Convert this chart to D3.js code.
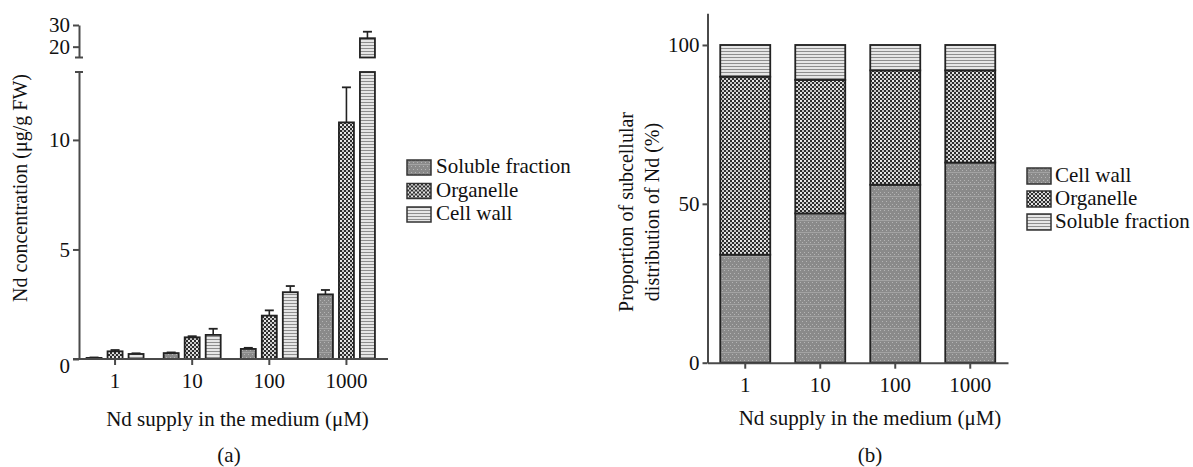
<!DOCTYPE html>
<html lang="en">

<head>
  <meta charset="UTF-8" />
  <title>Nd subcellular distribution</title>
  <script src="https://d3js.org/d3.v7.js"></script>
  <style>
    body { margin: 0; background: #fff; }
    text { font-family: "Liberation Serif", "Times New Roman", serif; fill: #111; }
    .axis path, .axis line { stroke: #4a4a4a; stroke-width: 2; }
    .axis text { font-size: 21px; font-family: "Liberation Serif", serif; fill: #111; }
  </style>
</head>

<body>
  <div id="figure"></div>
</body>
<script>
  // Data
  const supply = ["1", "10", "100", "1000"];
  const fractions = ["Soluble fraction", "Organelle", "Cell wall"];

  // (a) concentration, ug/g FW, and upper error
  const solubleConc = [0.05, 0.27, 0.46, 2.95];
  const solubleErr = [0.02, 0.03, 0.05, 0.2];
  const organelleConc = [0.35, 0.99, 1.98, 10.8];
  const organelleErr = [0.06, 0.05, 0.24, 1.6];
  const cellWallConc = [0.23, 1.1, 3.05, 23.9];
  const cellWallErr = [0.03, 0.28, 0.28, 3.0];
  const lowTicks = [0, 5, 10];
  const highTicks = [20, 30];

  // (b) proportion, %
  const stackKeys = ["Cell wall", "Organelle", "Soluble fraction"];
  const cellWallPct = [34, 47, 56, 63];
  const organellePct = [56, 42, 36, 29];
  const solublePct = [10, 11, 8, 8];
  const pctTicks = [0, 50, 100];

  const width = 1193
  const height = 467

  const svg = d3.select("#figure")
    .append("svg")
    .attr("width", width)
    .attr("height", height)

  // fill patterns
  const defs = svg.append("defs")

  const checker = defs.append("pattern").attr("id", "checker")
    .attr("patternUnits", "userSpaceOnUse").attr("width", 4).attr("height", 4)
  checker.append("rect").attr("width", 4).attr("height", 4).attr("fill", "#2e2e2e")
  checker.append("rect").attr("width", 2).attr("height", 2).attr("fill", "#e8e8e8")
  checker.append("rect").attr("x", 2).attr("y", 2).attr("width", 2).attr("height", 2).attr("fill", "#c4c4c4")

  const hlines = defs.append("pattern").attr("id", "hlines")
    .attr("patternUnits", "userSpaceOnUse").attr("width", 4).attr("height", 3)
  hlines.append("rect").attr("width", 4).attr("height", 3).attr("fill", "#e6e6e6")
  hlines.append("rect").attr("width", 4).attr("height", 1).attr("fill", "#8e8e8e")

  const dots = defs.append("pattern").attr("id", "dots")
    .attr("patternUnits", "userSpaceOnUse").attr("width", 4).attr("height", 12)
  dots.append("rect").attr("width", 4).attr("height", 12).attr("fill", "#8a8a8a")
  dots.append("rect").attr("x", 0).attr("y", 0).attr("width", 1).attr("height", 1).attr("fill", "#b4b4b4")
  dots.append("rect").attr("x", 2).attr("y", 2).attr("width", 1).attr("height", 1).attr("fill", "#b4b4b4")
  dots.append("rect").attr("x", 0).attr("y", 6).attr("width", 1).attr("height", 1).attr("fill", "#b4b4b4")
  dots.append("rect").attr("x", 2).attr("y", 9).attr("width", 1).attr("height", 1).attr("fill", "#b4b4b4")
  dots.append("rect").attr("x", 0).attr("y", 4).attr("width", 4).attr("height", 1).attr("fill", "#a3a3a3")

  const fillOf = { "Soluble fraction": "url(#dots)", "Organelle": "url(#checker)", "Cell wall": "url(#hlines)" }
  const fillOfB = { "Cell wall": "url(#dots)", "Organelle": "url(#checker)", "Soluble fraction": "url(#hlines)" }

  // ---------- (a) grouped bars with broken axis ----------
  const axisXa = 79
  const lowMax = 13.1, highMin = 15
  const yLow = d3.scaleLinear().domain([0, lowMax]).range([359, 72])
  const yHigh = d3.scaleLinear().domain([highMin, 30]).range([57.5, 25])
  const yA = v => v <= lowMax ? yLow(v) : yHigh(v)

  const xA = d3.scaleBand().domain(supply).range([76.5, 385])
  const xSub = d3.scaleBand().domain(fractions).range([-28.5, 28.5]).paddingInner(0.286)

  const seriesA = [
    { name: "Soluble fraction", values: solubleConc, errors: solubleErr },
    { name: "Organelle", values: organelleConc, errors: organelleErr },
    { name: "Cell wall", values: cellWallConc, errors: cellWallErr }
  ]
  const barsA = []
  seriesA.forEach(s => s.values.forEach((v, i) => barsA.push({
    name: s.name, group: supply[i], value: v, err: s.errors[i]
  })))
  const barX = d => xA(d.group) + xA.bandwidth() / 2 + xSub(d.name)

  const gA = svg.append("g")

  // lower part of each bar
  gA.selectAll("rect.low")
    .data(barsA)
    .join("rect")
    .attr("class", "low")
    .attr("x", barX)
    .attr("y", d => yLow(Math.min(d.value, lowMax)))
    .attr("width", xSub.bandwidth())
    .attr("height", d => yLow(0) - yLow(Math.min(d.value, lowMax)))
    .attr("fill", d => fillOf[d.name])
    .attr("stroke", "#222")
    .attr("stroke-width", 1.8)

  // upper part for bars going over the break
  gA.selectAll("rect.high")
    .data(barsA.filter(d => d.value > lowMax))
    .join("rect")
    .attr("class", "high")
    .attr("x", barX)
    .attr("y", d => yHigh(d.value))
    .attr("width", xSub.bandwidth())
    .attr("height", d => yHigh(highMin) - yHigh(d.value))
    .attr("fill", d => fillOf[d.name])
    .attr("stroke", "#222")
    .attr("stroke-width", 1.8)

  // error bars
  const errG = gA.selectAll("g.err")
    .data(barsA)
    .join("g")
    .attr("class", "err")
  errG.append("line")
    .attr("x1", d => barX(d) + xSub.bandwidth() / 2)
    .attr("x2", d => barX(d) + xSub.bandwidth() / 2)
    .attr("y1", d => yA(d.value))
    .attr("y2", d => yA(d.value + d.err))
    .attr("stroke", "#222").attr("stroke-width", 1.6)
  errG.append("line")
    .attr("x1", d => barX(d) + xSub.bandwidth() / 2 - 4.5)
    .attr("x2", d => barX(d) + xSub.bandwidth() / 2 + 4.5)
    .attr("y1", d => yA(d.value + d.err))
    .attr("y2", d => yA(d.value + d.err))
    .attr("stroke", "#222").attr("stroke-width", 1.8)

  // axes (a)
  const lowAxis = svg.append('g')
    .attr("class", "axis")
    .attr('transform', `translate(${axisXa},0)`)
    .call(d3.axisLeft(yLow).tickValues(lowTicks).tickSize(6).tickPadding(3).tickSizeOuter(0))
  lowAxis.selectAll(".tick").filter(d => d === 0).select("text").attr("dy", "0.62em")
  svg.append('g')
    .attr("class", "axis")
    .attr('transform', `translate(${axisXa},0)`)
    .call(d3.axisLeft(yHigh).tickValues(highTicks).tickSize(6).tickPadding(3).tickSizeOuter(0))
  // break caps
  svg.append("g").attr("class", "axis")
    .selectAll("line")
    .data([yLow(lowMax), yHigh(highMin)])
    .join("line")
    .attr("x1", axisXa - 4).attr("x2", axisXa + 4)
    .attr("y1", d => d).attr("y2", d => d)

  const xAxisA = svg.append('g')
    .attr("class", "axis")
    .attr('transform', `translate(0,${yLow(0)})`)
    .call(d3.axisBottom(xA).tickSize(6).tickPadding(8))
  xAxisA.select(".domain").remove()
  xAxisA.append("line").attr("x1", 73).attr("x2", 388)

  svg.append("text")
    .attr("transform", `translate(27,188) rotate(-90)`)
    .attr("text-anchor", "middle")
    .style("font-size", "20px")
    .text("Nd concentration (μg/g FW)")
  svg.append("text")
    .attr("x", 237.5).attr("y", 426)
    .attr("text-anchor", "middle")
    .style("font-size", "21px")
    .text("Nd supply in the medium (μM)")
  svg.append("text")
    .attr("x", 229).attr("y", 462)
    .attr("text-anchor", "middle")
    .style("font-size", "21px")
    .text("(a)")

  // legend (a)
  const legA = svg.append("g").attr("transform", "translate(407,160)")
  const legAItems = legA.selectAll("g")
    .data(fractions)
    .join("g")
    .attr("transform", (d, i) => `translate(0,${i * 23.5})`)
  legAItems.append("rect")
    .attr("width", 24).attr("height", 15)
    .attr("fill", d => fillOf[d])
    .attr("stroke", "#333").attr("stroke-width", 1.5)
  legAItems.append("text")
    .attr("x", 29).attr("y", 13)
    .style("font-size", "21px")
    .text(d => d)

  // ---------- (b) stacked bars ----------
  const axisXb = 707.5
  const yB = d3.scaleLinear().domain([0, 110]).range([362.7, 13.2])
  const xB = d3.scaleBand().domain(supply).range([axisXb, 1008]).paddingInner(1 / 3).paddingOuter(0.17)

  const tableB = supply.map((s, i) => ({
    supply: s,
    "Cell wall": cellWallPct[i],
    "Organelle": organellePct[i],
    "Soluble fraction": solublePct[i]
  }))
  const stacked = d3.stack().keys(stackKeys)(tableB)

  svg.append("g")
    .selectAll("g")
    .data(stacked)
    .join("g")
    .attr("fill", d => fillOfB[d.key])
    .selectAll("rect")
    .data(d => d)
    .join("rect")
    .attr("x", d => xB(d.data.supply))
    .attr("y", d => yB(d[1]))
    .attr("width", xB.bandwidth())
    .attr("height", d => yB(d[0]) - yB(d[1]))
    .attr("stroke", "#222")
    .attr("stroke-width", 1.8)

  svg.append('g')
    .attr("class", "axis")
    .attr('transform', `translate(${axisXb},0)`)
    .call(d3.axisLeft(yB).tickValues(pctTicks).tickSize(5).tickPadding(3).tickSizeOuter(0))

  const xAxisB = svg.append('g')
    .attr("class", "axis")
    .attr('transform', `translate(0,${yB(0)})`)
    .call(d3.axisBottom(xB).tickSize(6).tickPadding(8).tickSizeOuter(0))

  const yTitleB = svg.append("text")
    .attr("transform", `translate(633,212) rotate(-90)`)
    .attr("text-anchor", "middle")
    .style("font-size", "20px")
  yTitleB.append("tspan").attr("x", 0).attr("dy", 0).text("Proportion of subcellular")
  yTitleB.append("tspan").attr("x", 0).attr("dy", 26).text("distribution of Nd (%)")

  svg.append("text")
    .attr("x", 870).attr("y", 425)
    .attr("text-anchor", "middle")
    .style("font-size", "21px")
    .text("Nd supply in the medium (μM)")
  svg.append("text")
    .attr("x", 870).attr("y", 462)
    .attr("text-anchor", "middle")
    .style("font-size", "21px")
    .text("(b)")

  // legend (b)
  const legB = svg.append("g").attr("transform", "translate(1027,168)")
  const legBItems = legB.selectAll("g")
    .data(stackKeys)
    .join("g")
    .attr("transform", (d, i) => `translate(0,${i * 23})`)
  legBItems.append("rect")
    .attr("width", 24).attr("height", 16)
    .attr("fill", d => fillOfB[d])
    .attr("stroke", "#333").attr("stroke-width", 1.5)
  legBItems.append("text")
    .attr("x", 28).attr("y", 14)
    .style("font-size", "21px")
    .text(d => d)
</script>

</html>
